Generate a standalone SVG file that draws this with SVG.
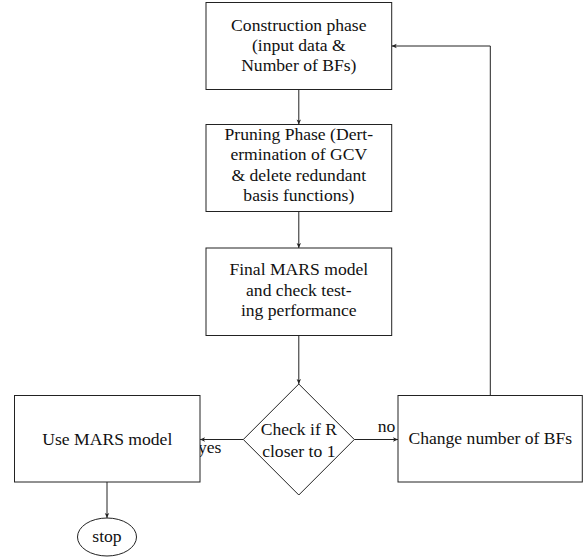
<svg xmlns="http://www.w3.org/2000/svg" width="583" height="560" viewBox="0 0 583 560" font-family="'Liberation Serif', 'Times New Roman', 'DejaVu Serif', serif">
<style>
.box{fill:#fff;stroke:#222;stroke-width:1}
.t{font-family:'Liberation Serif','Times New Roman','DejaVu Serif',serif;font-size:17.6px;fill:#111;text-anchor:middle}
.l{font-family:'Liberation Serif','Times New Roman','DejaVu Serif',serif;font-size:17.6px;fill:#111}
.c{fill:none;stroke:#222;stroke-width:1}
</style>
<defs>
<marker id="ah" markerUnits="userSpaceOnUse" markerWidth="8" markerHeight="8" viewBox="-6 -4 7 8" refX="0" refY="0" orient="auto">
<path d="M0,0 L-5,-2.2 L-3.8,0 L-5,2.2 Z" fill="#222"/>
</marker>
</defs>
<rect width="583" height="560" fill="#fff"/>
<g id="connectors">
<line class="c" x1="298.8" y1="89.5" x2="298.8" y2="124.5" marker-end="url(#ah)"/>
<line class="c" x1="298.8" y1="211.5" x2="298.8" y2="248" marker-end="url(#ah)"/>
<line class="c" x1="298.8" y1="335.5" x2="298.8" y2="384" marker-end="url(#ah)"/>
<line class="c" x1="243.3" y1="439.5" x2="200" y2="439.5" marker-end="url(#ah)"/>
<line class="c" x1="354.3" y1="439.5" x2="398" y2="439.5" marker-end="url(#ah)"/>
<line class="c" x1="107" y1="482" x2="107" y2="518" marker-end="url(#ah)"/>
<polyline class="c" points="490.3,395.5 490.3,46 391.7,46" marker-end="url(#ah)"/>
<text class="l" x="377.7" y="432.3">no</text>
<text class="l" x="198" y="452.7">yes</text>
</g>
<g id="construction">
<rect class="box" x="206" y="2.5" width="185.7" height="87"/>
<text class="t" x="298.8" y="30.5">Construction phase</text>
<text class="t" x="298.8" y="50.5">(input data &amp;</text>
<text class="t" x="298.8" y="70.5">Number of BFs)</text>
</g>
<g id="pruning">
<rect class="box" x="206" y="124.5" width="185.7" height="87"/>
<text class="t" x="298.8" y="140">Pruning Phase (Dert-</text>
<text class="t" x="298.8" y="160.3">ermination of GCV</text>
<text class="t" x="298.8" y="180.6">&amp; delete redundant</text>
<text class="t" x="298.8" y="200.8">basis functions)</text>
</g>
<g id="final">
<rect class="box" x="206" y="248" width="185.7" height="87.5"/>
<text class="t" x="298.8" y="275.3">Final MARS model</text>
<text class="t" x="298.8" y="295.6">and check test-</text>
<text class="t" x="298.8" y="315.9">ing performance</text>
</g>
<g id="check">
<polygon class="box" points="298.8,384 354.3,439.5 298.8,495 243.3,439.5"/>
<text class="t" x="298.8" y="435">Check if R</text>
<text class="t" x="298.8" y="456.7">closer to 1</text>
</g>
<g id="use">
<rect class="box" x="14.5" y="395.5" width="185.5" height="86.5"/>
<text class="t" x="107.3" y="445">Use MARS model</text>
</g>
<g id="change">
<rect class="box" x="398" y="395.5" width="184.3" height="86.5"/>
<text class="t" x="490.3" y="443.5">Change number of BFs</text>
</g>
<g id="stop">
<ellipse class="box" cx="107" cy="537" rx="29.5" ry="19"/>
<text class="t" x="107" y="542">stop</text>
</g>
</svg>
